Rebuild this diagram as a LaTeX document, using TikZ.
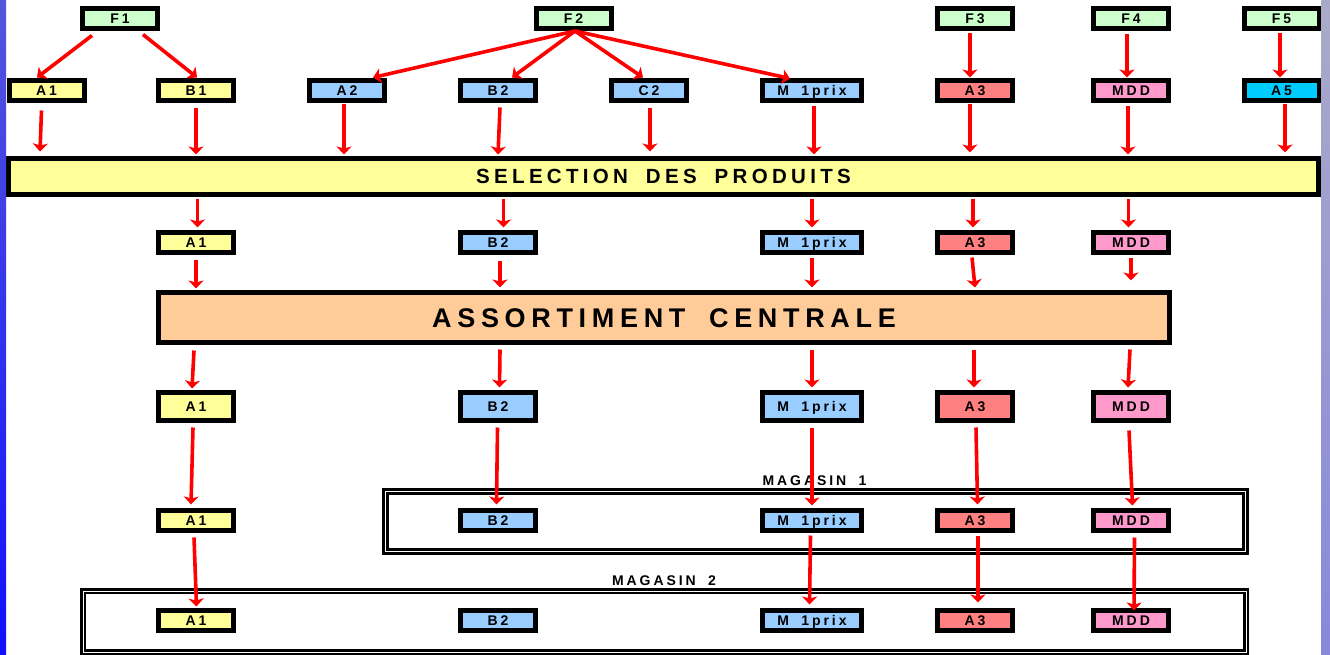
\documentclass[tikz,border=0pt]{standalone}
\usepackage{fontspec}
\setmainfont{Liberation Sans}
\newfontfamily\lsfont[LetterSpace=21,WordSpace=1.8]{Liberation Sans}
\usetikzlibrary{arrows.meta,calc}
\definecolor{fgreen}{HTML}{CCFFCC}
\definecolor{fyellow}{HTML}{FFFF99}
\definecolor{fblue}{HTML}{99CCFF}
\definecolor{fsalmon}{HTML}{FF8080}
\definecolor{fpink}{HTML}{FF99CC}
\definecolor{fcyan}{HTML}{00CCFF}
\definecolor{fpeach}{HTML}{FFCC99}
\definecolor{arrred}{HTML}{FF0000}
\definecolor{stripLtop}{RGB}{85,85,220}
\definecolor{stripLbot}{RGB}{16,16,255}
\definecolor{stripRtop}{RGB}{170,170,200}
\definecolor{stripRbot}{RGB}{136,136,220}
\tikzset{
 box/.style={draw=black, line width=5pt, inner sep=0pt, minimum width=75pt, minimum height=20pt,
   text height=10pt, text depth=0pt, font=\lsfont\bfseries\fontsize{14}{16}\selectfont},
 wbox/.style={box, minimum width=99pt},
 tall/.style={minimum height=28pt},
 bar/.style={draw=black, line width=5pt, inner sep=0pt},
 frm/.style={draw=black, double=white, double distance=1pt, inner sep=0pt},
 lbl/.style={inner sep=0pt, text height=10pt, text depth=0pt, font=\lsfont\bfseries\fontsize{14}{16}\selectfont},
 arr/.style={draw=arrred, line width=3.6pt, -{Stealth[length=8pt,width=15pt,inset=2pt]}},
}
% from src.south+d1 to dst.north+d2
\newcommand\dlink[4]{\draw[arr] ($(#1.south)+(#2)$) -- ($(#3.north)+(#4)$);}
% vertical: x taken from source
\newcommand\vlink[4]{\draw[arr] ($(#1.south)+(#2)$) -- ($(#3.north -| #1.south)+(#4)$);}
% vertical: x taken from target
\newcommand\ulink[4]{\draw[arr] ($(#1.south -| #3.north)+(#2)$) -- ($(#3.north)+(#4)$);}
\begin{document}
\begin{tikzpicture}[x=1pt,y=-1pt]
\useasboundingbox (0,0) rectangle (1330,655);
\fill[white] (0,0) rectangle (1330,655);

% magasin frames
\node[frm, line width=3pt, minimum width=860pt, minimum height=60pt] (mag1) at (815.5,521.5) {};
\node[frm, line width=2.5pt, minimum width=1163pt, minimum height=61pt] (mag2) at (664.5,621.5) {};
\node[lbl] (mag1lbl) at (814.5,480) {MAGASIN 1};
\node[lbl] (mag2lbl) at (664,580) {MAGASIN 2};

% row 1
\node[box, fill=fgreen] (F1) at (120,18.5) {F1};
\node[box, fill=fgreen] (F2) at (573.5,18.5) {F2};
\node[box, fill=fgreen] (F3) at (975,18.5) {F3};
\node[box, fill=fgreen] (F4) at (1131,18.5) {F4};
\node[box, fill=fgreen] (F5) at (1281.5,18.5) {F5};

% row 2
\node[box, fill=fyellow] (a1) at (46.5,90.5) {A1};
\node[box, fill=fyellow] (b1) at (196,90.5) {B1};
\node[box, fill=fblue] (a2) at (347,90.5) {A2};
\node[box, fill=fblue] (b2) at (498,90.5) {B2};
\node[box, fill=fblue] (c2) at (649,90.5) {C2};
\node[wbox, fill=fblue] (m1) at (812,90.5) {M 1prix};
\node[box, fill=fsalmon] (a3) at (975,90.5) {A3};
\node[box, fill=fpink] (mdd) at (1131,90.5) {MDD};
\node[box, fill=fcyan] (a5) at (1281.5,90.5) {A5};

% selection bar
\node[bar, fill=fyellow, minimum width=1310pt, minimum height=36pt,
  text height=14.7pt, text depth=0pt, font=\lsfont\bfseries\fontsize{20.5}{22}\selectfont]
  (sel) at (663.5,176.5) {SELECTION DES PRODUITS};

% row 3
\node[box, fill=fyellow] (ra1) at (196,242.5) {A1};
\node[box, fill=fblue] (rb2) at (498,242.5) {B2};
\node[wbox, fill=fblue] (rm1) at (812,242.5) {M 1prix};
\node[box, fill=fsalmon] (ra3) at (975,242.5) {A3};
\node[box, fill=fpink] (rmdd) at (1131,242.5) {MDD};

% assortiment bar
\node[bar, fill=fpeach, minimum width=1011pt, minimum height=50pt,
  text height=19.3pt, text depth=0pt, font=\lsfont\bfseries\fontsize{27}{30}\selectfont]
  (asr) at (664,317.5) {ASSORTIMENT CENTRALE};

% row 4
\node[box, tall, fill=fyellow] (sa1) at (196,406.5) {A1};
\node[box, tall, fill=fblue] (sb2) at (498,406.5) {B2};
\node[wbox, tall, fill=fblue] (sm1) at (812,406.5) {M 1prix};
\node[box, tall, fill=fsalmon] (sa3) at (975,406.5) {A3};
\node[box, tall, fill=fpink] (smdd) at (1131,406.5) {MDD};

% row 5 (magasin 1)
\node[box, fill=fyellow] (ta1) at (196,520.5) {A1};
\node[box, fill=fblue] (tb2) at (498,520.5) {B2};
\node[wbox, fill=fblue] (tm1) at (812,520.5) {M 1prix};
\node[box, fill=fsalmon] (ta3) at (975,520.5) {A3};
\node[box, fill=fpink] (tmdd) at (1131,520.5) {MDD};

% row 6 (magasin 2)
\node[box, fill=fyellow] (ua1) at (196,620.5) {A1};
\node[box, fill=fblue] (ub2) at (498,620.5) {B2};
\node[wbox, fill=fblue] (um1) at (812,620.5) {M 1prix};
\node[box, fill=fsalmon] (ua3) at (975,620.5) {A3};
\node[box, fill=fpink] (umdd) at (1131,620.5) {MDD};

% row 1 -> row 2
\dlink{F1}{-28,4.5}{a1}{-9.5,-0.5}
\dlink{F1}{23,3.5}{b1}{1,-0.5}
\dlink{F2}{1.5,0}{a2}{26,-0.5}
\dlink{F2}{1.5,0}{b2}{14,-0.5}
\dlink{F2}{1.5,0}{c2}{-6,-0.5}
\dlink{F2}{1.5,0}{m1}{-22,0.5}
\dlink{F3}{-5,2.5}{a3}{-5,-0.5}
\dlink{F4}{-4,3.5}{mdd}{-4,-0.5}
\dlink{F5}{-1.5,2.5}{a5}{-1.5,-0.5}

% row 2 -> selection
\vlink{a1}{-5,7.5}{sel}{-6.5,-4.5}
\vlink{b1}{0,5.5}{sel}{0,-1.5}
\vlink{a2}{-3,1.5}{sel}{-3,-1.5}
\vlink{b2}{2,4.5}{sel}{0,-1.5}
\vlink{c2}{1,5.5}{sel}{1,-4.5}
\vlink{m1}{2,3.5}{sel}{2,-1.5}
\vlink{a3}{-5,1.5}{sel}{-5,-3.5}
\vlink{mdd}{-3,3.5}{sel}{-3,-1.5}
\vlink{a5}{3.5,1.5}{sel}{3.5,-3.5}

% selection -> row 3
\ulink{sel}{1.5,2.5}{ra1}{1.5,-2.5}
\ulink{sel}{5.5,2.5}{rb2}{5.5,-2.5}
\ulink{sel}{0,2.5}{rm1}{0,-2.5}
\ulink{sel}{-2,2.5}{ra3}{-2,-2.5}
\ulink{sel}{-2.5,2.5}{rmdd}{-2.5,-2.5}

% row 3 -> assortiment
\vlink{ra1}{0,4.5}{asr}{0,-1.5}
\vlink{rb2}{2,5.5}{asr}{2,-2.5}
\vlink{rm1}{0,2.5}{asr}{0,-2.5}
\vlink{ra3}{-3,2.5}{asr}{0,-2.5}
\vlink{rmdd}{0,2.5}{asr}{0,-9.5}

% assortiment -> row 4
\ulink{asr}{-2,5.5}{sa1}{-4,-1.5}
\ulink{asr}{2,4.5}{sb2}{1.5,-2.5}
\ulink{asr}{0,4.5}{sm1}{0,-2.5}
\ulink{asr}{-1,4.5}{sa3}{-1,-2.5}
\ulink{asr}{-1,4.5}{smdd}{-3,-2.5}

% row 4 -> row 5
\vlink{sa1}{-3,4.5}{ta1}{-5,-3.5}
\vlink{sb2}{-0.5,4.5}{tb2}{-1.5,-3.5}
\vlink{sm1}{0,4.5}{tm1}{0,-2.5}
\vlink{sa3}{1,4.5}{ta3}{2.5,-3.5}
\vlink{smdd}{-2,7.5}{tmdd}{1.5,-2.5}

% row 5 -> row 6
\vlink{ta1}{-2,4.5}{ua1}{0.5,-1.5}
\vlink{tm1}{-1.5,2.5}{um1}{-2.5,-3.5}
\vlink{ta3}{3,2.5}{ua3}{3,-5.5}
\vlink{tmdd}{3.5,4.5}{umdd}{3,2.5}

% side strips
\shade[top color=stripLtop, bottom color=stripLbot] (0,0) rectangle (6,655);
\shade[top color=stripRtop, bottom color=stripRbot] (1321,0) rectangle (1330,655);
\end{tikzpicture}
\end{document}
